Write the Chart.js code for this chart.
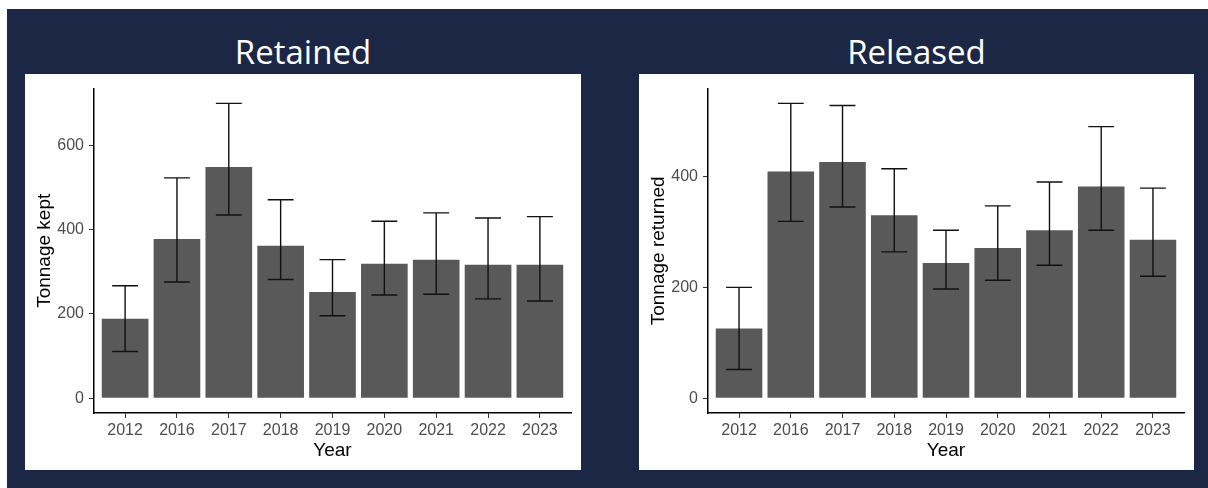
<!DOCTYPE html>
<html>
<head>
<meta charset="utf-8">
<script src="https://cdn.jsdelivr.net/npm/chart.js@4/dist/chart.umd.min.js"></script>
<style>
  html, body { margin: 0; padding: 0; background: #fff; }
  body { width: 1208px; height: 488px; position: relative; overflow: hidden; }
  #bg { position: absolute; left: 7px; top: 9px; right: 0; bottom: 0; background: #1b2745; }
  .title { position: absolute; top: 29px; line-height: 33px; font: 33px "Open Sans", sans-serif; color: #fff; text-align: center; }
  .panel { position: absolute; top: 74px; height: 396px; background: #fff; }
</style>
</head>
<body>
<div id="bg"></div>
<div class="title" style="left:25px;width:556px;">Retained</div>
<div class="title" style="left:639px;width:555px;">Released</div>
<div class="panel" style="left:25px;width:556px;"><canvas id="kept"></canvas></div>
<div class="panel" style="left:639px;width:555px;"><canvas id="returned"></canvas></div>
<script>
const years = ['2012', '2016', '2017', '2018', '2019', '2020', '2021', '2022', '2023'];

const keptMean  = [189, 378, 549, 362, 252, 319, 329, 317, 317];
const keptLower = [111, 276, 435, 282, 196, 245, 247, 236, 231];
const keptUpper = [267, 523, 700, 471, 329, 420, 440, 428, 431];
const keptTicks = [0, 200, 400, 600];

const returnedMean  = [126, 409, 426, 330, 244, 271, 303, 382, 286];
const returnedLower = [52, 319, 345, 264, 197, 213, 240, 303, 220];
const returnedUpper = [200, 532, 528, 414, 303, 347, 390, 490, 379];
const returnedTicks = [0, 200, 400];

const FONT = '"Liberation Sans", Arial, sans-serif';

// error bars drawn through the chart's own scales
const errorBars = {
  id: 'errorBars',
  afterDatasetsDraw(chart, args, opts) {
    const { ctx, scales: { x, y } } = chart;
    const half = (x.getPixelForValue(1) - x.getPixelForValue(0)) * 0.25;
    ctx.save();
    ctx.strokeStyle = '#111';
    ctx.lineWidth = 1.4;
    opts.lower.forEach((lo, i) => {
      const px = x.getPixelForValue(i);
      const yLo = y.getPixelForValue(lo);
      const yHi = y.getPixelForValue(opts.upper[i]);
      ctx.beginPath();
      ctx.moveTo(px, yLo); ctx.lineTo(px, yHi);
      ctx.moveTo(px - half, yLo); ctx.lineTo(px + half, yLo);
      ctx.moveTo(px - half, yHi); ctx.lineTo(px + half, yHi);
      ctx.stroke();
    });
    ctx.restore();
  }
};

function makeChart(id, mean, lower, upper, ticks, yTitle) {
  const top = Math.max(...upper);
  return new Chart(document.getElementById(id), {
    type: 'bar',
    data: {
      datasets: [{
        data: mean.map((v, i) => ({ x: i, y: v })),
        backgroundColor: '#595959',
        borderWidth: 0,
        categoryPercentage: 1,
        barPercentage: 0.9
      }]
    },
    options: {
      animation: false,
      responsive: true,
      maintainAspectRatio: false,
      layout: { padding: { top: 10, right: 10, left: 0, bottom: 0 } },
      plugins: {
        legend: { display: false },
        tooltip: { enabled: false },
        errorBars: { lower, upper }
      },
      scales: {
        x: {
          type: 'linear',
          min: -0.6,
          max: years.length - 1 + 0.6,
          offset: false,
          afterBuildTicks: s => { s.ticks = years.map((_, i) => ({ value: i })); },
          afterFit: s => { s.height = 57; },
          ticks: {
            callback: v => years[v],
            color: '#4d4d4d',
            font: { family: FONT, size: 16 },
            padding: 3,
            maxRotation: 0,
            autoSkip: false
          },
          grid: { display: true, drawOnChartArea: false, drawTicks: true, tickLength: 5, color: '#333', offset: false },
          border: { display: true, color: '#000', width: 1.5 },
          title: { display: true, text: 'Year', color: '#000', font: { family: FONT, size: 19 }, padding: { top: 0, bottom: 8 } }
        },
        y: {
          min: -0.05 * top,
          max: 1.05 * top,
          afterBuildTicks: s => { s.ticks = ticks.map(v => ({ value: v })); },
          afterFit: s => { s.width = 69; },
          ticks: {
            color: '#4d4d4d',
            font: { family: FONT, size: 16 },
            padding: 5
          },
          grid: { display: true, drawOnChartArea: false, drawTicks: true, tickLength: 5, color: '#333' },
          border: { display: true, color: '#000', width: 1.5 },
          title: { display: true, text: yTitle, color: '#000', font: { family: FONT, size: 19 }, padding: { top: 8, bottom: 0 } }
        }
      }
    },
    plugins: [errorBars]
  });
}

makeChart('kept', keptMean, keptLower, keptUpper, keptTicks, 'Tonnage kept');
makeChart('returned', returnedMean, returnedLower, returnedUpper, returnedTicks, 'Tonnage returned');
</script>
</body>
</html>
